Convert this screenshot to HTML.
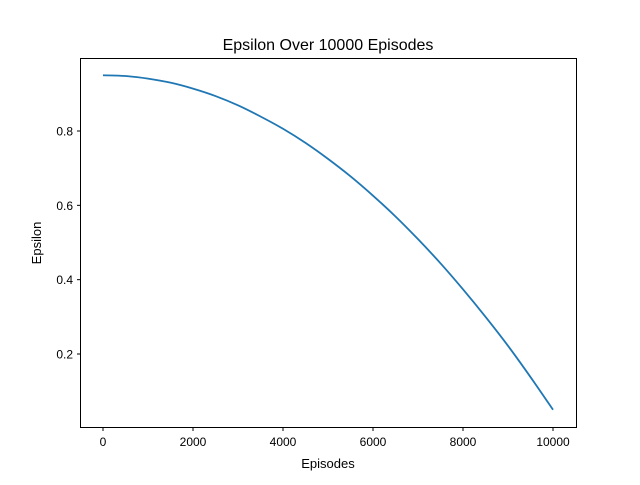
<!DOCTYPE html>
<html><head><meta charset="utf-8"><style>
body{margin:0;background:#fff}
text{font-family:"Liberation Sans","DejaVu Sans",sans-serif;fill:#000}
</style></head><body>
<svg id="chart" width="640" height="480" xmlns="http://www.w3.org/2000/svg">
<rect width="640" height="480" fill="#fff"/>
<text x="328" y="50" font-size="16" text-anchor="middle">Epsilon Over 10000 Episodes</text>
<text x="328" y="468" font-size="13" text-anchor="middle">Episodes</text>
<text x="0" y="0" font-size="13" text-anchor="middle" transform="translate(41,243) rotate(-90)">Epsilon</text>
<g id="ticks"></g>
<path id="line" fill="none" stroke="#1f77b4" stroke-width="1.8"/>
<rect x="80.5" y="58.5" width="496" height="369" fill="none" stroke="#000" stroke-width="1"/>
</svg>
<script>
const episodes=[0,500,1000,1500,2000,2500,3000,3500,4000,4500,5000,5500,6000,6500,7000,7500,8000,8500,9000,9500,10000];
const epsilon=[0.95,0.948,0.941,0.930,0.914,0.894,0.869,0.839,0.806,0.768,0.725,0.678,0.626,0.570,0.509,0.444,0.374,0.300,0.222,0.138,0.05];
const xTicks=[0,2000,4000,6000,8000,10000];
const yTicks=[0.2,0.4,0.6,0.8];
function xs(v){return 103+v*0.045;}
function ys(v){return 131+(0.8-v)*371.67;}
const NS="http://www.w3.org/2000/svg";
const g=document.getElementById('ticks');
xTicks.forEach(t=>{
 const l=document.createElementNS(NS,'line');
 l.setAttribute('x1',xs(t));l.setAttribute('x2',xs(t));l.setAttribute('y1',427.5);l.setAttribute('y2',431);l.setAttribute('stroke','#000');
 
 
 g.appendChild(l);
 const tx=document.createElementNS(NS,'text');
 tx.setAttribute('x',xs(t));tx.setAttribute('y',446);tx.setAttribute('font-size','12');tx.setAttribute('text-anchor','middle');
 tx.textContent=String(t);
 
 
 g.appendChild(tx);
});
yTicks.forEach(t=>{
 const l=document.createElementNS(NS,'line');
 l.setAttribute('x1',77);l.setAttribute('x2',80.5);l.setAttribute('y1',ys(t));l.setAttribute('y2',ys(t));l.setAttribute('stroke','#000');
 
 
 g.appendChild(l);
 const tx=document.createElementNS(NS,'text');
 tx.setAttribute('x',73);tx.setAttribute('y',ys(t)+4.5);tx.setAttribute('font-size','12');tx.setAttribute('text-anchor','end');
 tx.textContent=t.toFixed(1);
 
 
 g.appendChild(tx);
});
const P=episodes.map((e,i)=>[xs(e),ys(epsilon[i])]);
let d='M'+P[0][0].toFixed(2)+','+P[0][1].toFixed(2);
for(let i=0;i<P.length-1;i++){
 const p0=P[Math.max(0,i-1)],p1=P[i],p2=P[i+1],p3=P[Math.min(P.length-1,i+2)];
 const c1=[p1[0]+(p2[0]-p0[0])/6,p1[1]+(p2[1]-p0[1])/6];
 const c2=[p2[0]-(p3[0]-p1[0])/6,p2[1]-(p3[1]-p1[1])/6];
 d+=' C'+c1.map(v=>v.toFixed(2)).join(',')+' '+c2.map(v=>v.toFixed(2)).join(',')+' '+p2.map(v=>v.toFixed(2)).join(',');
}
document.getElementById('line').setAttribute('d',d);
</script>
</body></html>
